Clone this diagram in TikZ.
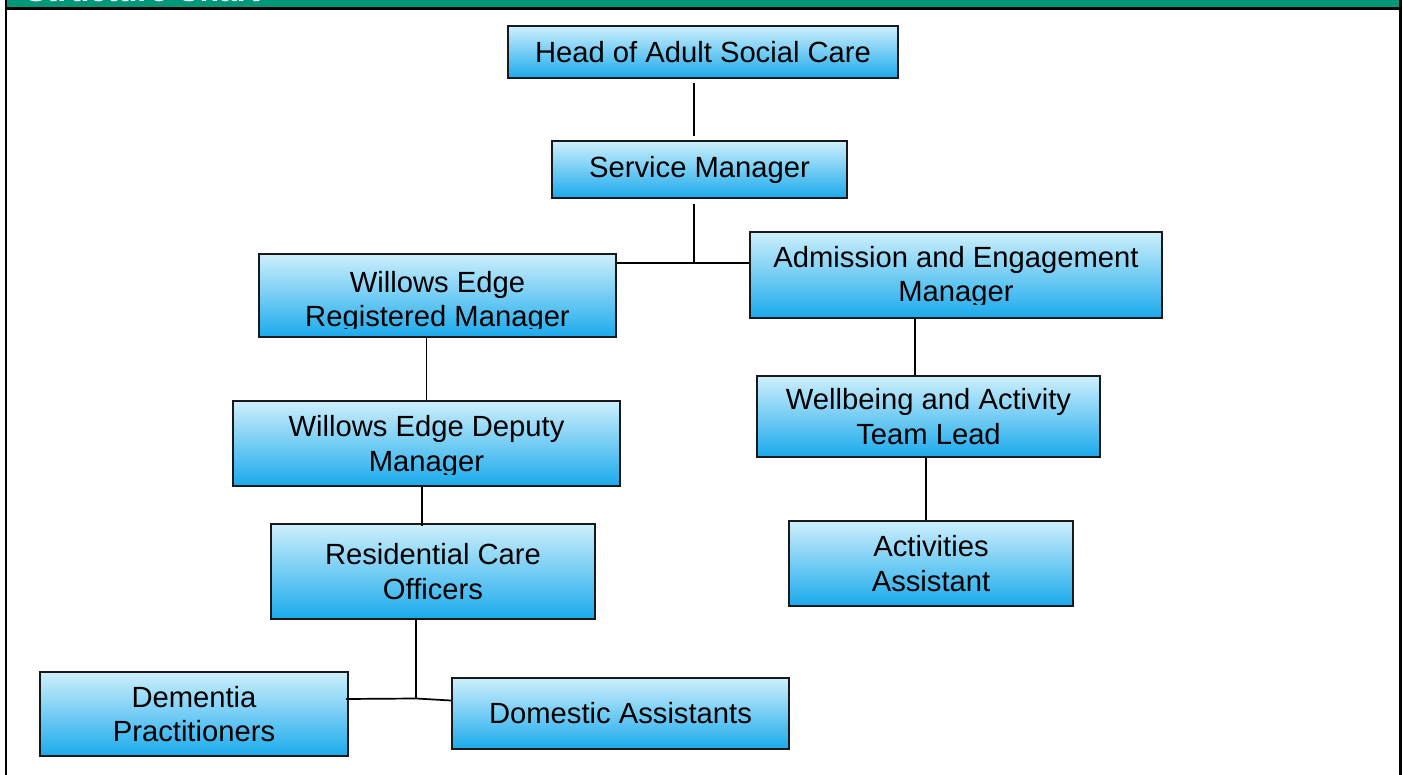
\documentclass[tikz,border=0pt]{standalone}
\usepackage{fontspec}
\setmainfont{Liberation Sans}
\usetikzlibrary{calc}
\definecolor{hdrgreen}{RGB}{0,152,120}
\definecolor{boxtop}{RGB}{206,239,252}
\definecolor{boxmid}{RGB}{155,216,246}
\definecolor{boxbot}{RGB}{26,170,236}
\definecolor{boxline}{RGB}{25,25,25}
\begin{document}
\begin{tikzpicture}[x=0.5pt,y=-0.5pt,
  box/.style={draw=boxline, line width=1pt, rectangle, inner sep=0pt,
    top color=boxtop, middle color=boxmid, bottom color=boxbot,
    align=center, font=\fontsize{14.6}{17.4}\selectfont},
  boxtext/.style={align=center, inner sep=0pt, font=\fontsize{14.6}{17.4}\selectfont},
  link/.style={draw=black, line width=0.85pt},
  frame/.style={draw=black, line width=1.2pt}]
\useasboundingbox (0,0) rectangle (1403,775);
\begin{scope}
\clip (0,0) rectangle (1403,775);
% title bar
\fill[hdrgreen] (7,-40) rectangle (1399,7.5);
\node[anchor=base west, inner sep=0pt, text=white,
  font=\fontsize{16}{19}\bfseries\selectfont] (title) at (25,1.5) {Structure Chart};
\draw[frame] (6,-40) -- (6,800);
\draw[frame] (1400.5,-40) -- (1400.5,800);
\draw[frame] (6,8.5) -- (1400.5,8.5);
\end{scope}

% boxes
\node[box, minimum width=390*0.5pt, minimum height=52*0.5pt] (head) at (703,52) {Head of Adult Social Care};
\node[box, minimum width=295*0.5pt, minimum height=57*0.5pt] (svc) at (699.5,169.5) {Service Manager};
\node[box, minimum width=357*0.5pt, minimum height=83*0.5pt] (reg) at (437.5,295.5) {};
\node[box, minimum width=412*0.5pt, minimum height=86*0.5pt] (adm) at (956,275) {};
\node[box, minimum width=387*0.5pt, minimum height=85*0.5pt] (dep) at (426.5,443.5) {};
\node[box, minimum width=324*0.5pt, minimum height=95*0.5pt] (res) at (433,571.5) {Residential Care\\Officers};
\node[box, minimum width=343*0.5pt, minimum height=81*0.5pt] (wel) at (928.5,416.5) {Wellbeing and Activity\\Team Lead};
\node[box, minimum width=284*0.5pt, minimum height=85*0.5pt] (act) at (931,563.5) {Activities\\Assistant};
\node[box, minimum width=308*0.5pt, minimum height=84*0.5pt] (dem) at (194,714) {Dementia\\Practitioners};
\node[box, minimum width=337*0.5pt, minimum height=71*0.5pt] (dom) at (620.5,713.5) {Domestic Assistants};

% labels whose descenders are cut by the text frame
\begin{scope}
\clip ($(reg.north west)+(2,2)$) rectangle ($(reg.south east)+(-2,-9)$);
\node[boxtext, anchor=base] (regtxt) at (437.5,327) {Willows Edge\\Registered Manager};
\end{scope}
\begin{scope}
\clip ($(adm.north west)+(2,2)$) rectangle ($(adm.south east)+(-2,-14)$);
\node[boxtext, anchor=base] (admtxt) at (956,302) {Admission and Engagement\\Manager};
\end{scope}
\begin{scope}
\clip ($(dep.north west)+(2,2)$) rectangle ($(dep.south east)+(-2,-13)$);
\node[boxtext, anchor=base] (deptxt) at (426.5,471) {Willows Edge Deputy\\Manager};
\end{scope}

% connectors
\coordinate (j) at (694,263);
\coordinate (k) at (416,698.5);
\draw[link] ($(head.south)+(-9,4)$) -- ($(svc.north)+(-5.5,-4)$);
\draw[link] ($(svc.south)+(-5.5,5)$) -- (j);
\draw[link] (reg.east |- j) -- (adm.west |- j);
\draw[link] (reg.south -| dep.north) -- (dep.north);
\draw[link] ($(dep.south)+(-4.5,0)$) -- ($(res.north)+(-11,3)$);
\draw[link] ($(res.south)+(-17,0)$) -- (k);
\draw[link] (k) -- ($(dem.east)+(-3,-15)$);
\draw[link] (k) -- ($(dom.west)+(0,-13)$);
\draw[link] ($(adm.south)+(-41,0)$) -- ($(wel.north)+(-13.5,0)$);
\draw[link] ($(wel.south)+(-2.5,0)$) -- ($(act.north)+(-5,0)$);
\end{tikzpicture}
\end{document}
